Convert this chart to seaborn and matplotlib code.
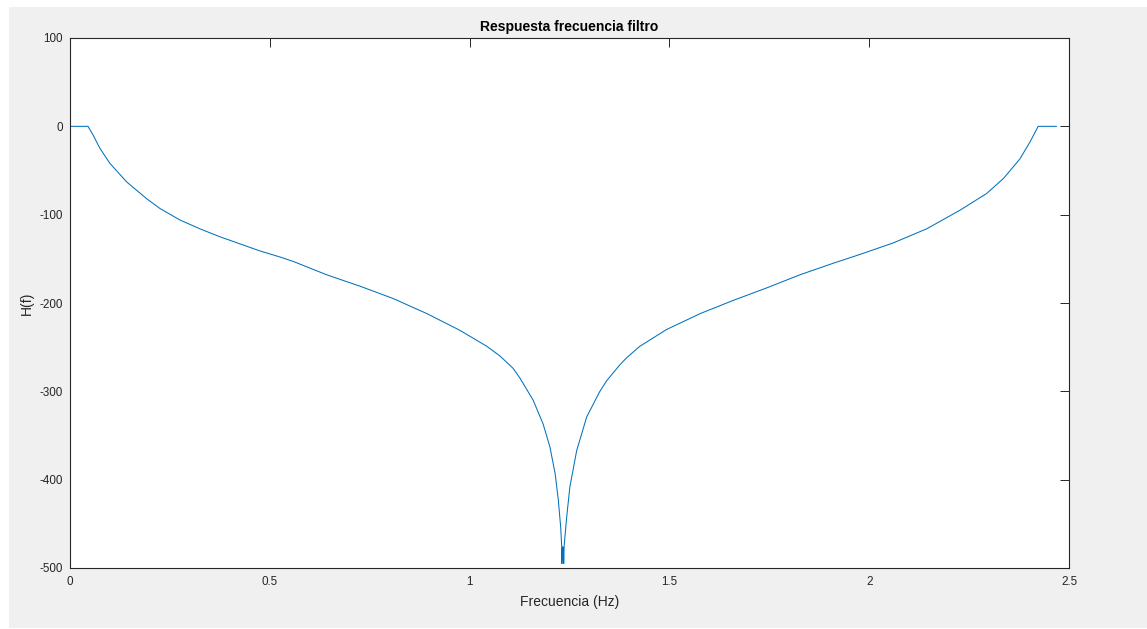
import matplotlib
matplotlib.use("Agg")
import matplotlib.pyplot as plt
import seaborn as sns
import pandas as pd
from matplotlib.patches import Rectangle

# ---- data ----
freq = [0.0, 0.045, 0.058, 0.075, 0.100, 0.142, 0.192, 0.225, 0.275, 0.325,
        0.375, 0.425, 0.475, 0.526, 0.559, 0.642, 0.726, 0.809, 0.893, 0.976,
        1.043, 1.076, 1.109, 1.126, 1.159, 1.184, 1.201, 1.214, 1.222, 1.228,
        1.2305, 1.231, 1.2318, 1.2325, 1.2333, 1.234, 1.2348, 1.2355, 1.2365,
        1.2385, 1.243, 1.251, 1.268, 1.293, 1.326, 1.343, 1.376, 1.393, 1.426,
        1.493, 1.577, 1.660, 1.743, 1.827, 1.910, 1.977, 2.060, 2.144, 2.227,
        2.294, 2.336, 2.377, 2.402, 2.423, 2.469]
resp = [0, 0, -10, -25, -42, -63, -82, -93, -106, -116,
        -125, -133, -141, -148, -153, -168, -181, -195, -212, -231,
        -249, -260, -274, -285, -310, -337, -363, -393, -423, -454,
        -476, -495, -478, -490, -476, -490, -478, -495, -476,
        -465, -442, -408, -367, -329, -300, -288, -270, -262, -249,
        -230, -212, -197, -183, -168, -155, -145, -132, -116, -95,
        -76, -59, -37, -18, 0, 0]

xticks = [0, 0.5, 1, 1.5, 2, 2.5]
xticklabels = ["0", "0.5", "1", "1.5", "2", "2.5"]
yticks = [-500, -400, -300, -200, -100, 0, 100]
yticklabels = ["-500", "-400", "-300", "-200", "-100", "0", "100"]

title = "Respuesta frecuencia filtro"
xlabel = "Frecuencia (Hz)"
ylabel = "H(f)"

sns.set_style("white")
plt.rcParams["font.family"] = ["Liberation Sans", "DejaVu Sans"]

W, H = 1147, 629
fig = plt.figure(figsize=(W / 100, H / 100), dpi=100, facecolor="white")
fig.patches.append(Rectangle((9 / W, 1 / H), 1 - 9 / W, (628 - 7) / H,
                             transform=fig.transFigure, facecolor="#f0f0f0",
                             edgecolor="none", zorder=-10))

ax = fig.add_axes([70 / W, (H - 568) / H, (1069 - 70) / W, (568 - 38) / H])
ax.set_facecolor("white")

df = pd.DataFrame({"f": freq, "H": resp})
sns.lineplot(data=df, x="f", y="H", ax=ax, color="#0072BD", linewidth=0.75,
             sort=False, estimator=None)

ax.set_xlim(0, 2.5)
ax.set_ylim(-500, 100)
ax.set_xticks(xticks)
ax.set_xticklabels(xticklabels)
ax.set_yticks(yticks)
ax.set_yticklabels(yticklabels)

tc = "#262626"
ax.tick_params(direction="in", length=6.5, width=0.7, color=tc,
               labelcolor=tc, labelsize=8.4, top=True, right=True)
ax.tick_params(axis="x", pad=6)
ax.tick_params(axis="y", pad=5)
for s in ax.spines.values():
    s.set_visible(True)
    s.set_color(tc)
    s.set_linewidth(0.8)

ax.set_title(title, fontsize=10, fontweight="bold", color="black", pad=5)
ax.set_xlabel(xlabel, fontsize=10, color=tc, labelpad=5)
ax.set_ylabel(ylabel, fontsize=10, color=tc, labelpad=4)

fig.savefig("out.png", dpi=100, facecolor=fig.get_facecolor())
